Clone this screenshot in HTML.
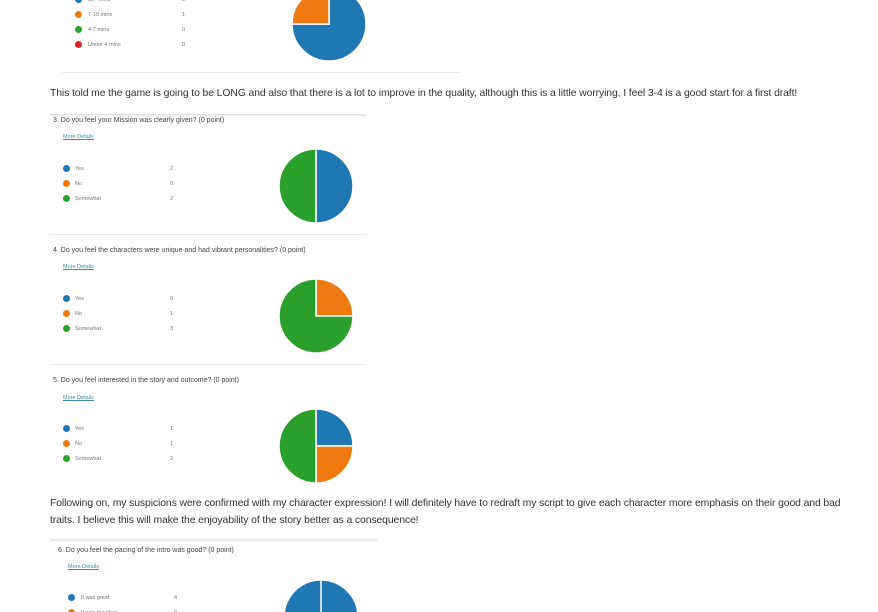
<!DOCTYPE html>
<html><head><meta charset="utf-8">
<style>
html,body{margin:0;width:878px;height:612px;background:#fff;position:relative;overflow:hidden;font-family:"Liberation Sans",sans-serif;}
.a{position:absolute;white-space:nowrap;z-index:2;}
.body{font-size:10.4px;color:#333;letter-spacing:-0.1px;}
.q{font-size:7px;color:#444;line-height:9px;}
.md{font-size:5.5px;color:#3a8fa0;text-decoration:underline;}
.lg{font-size:5.5px;color:#777;line-height:7px;}
.line{position:absolute;height:1px;background:#eaeaea;}
.shadow{position:absolute;height:3px;background:linear-gradient(#d8dde0,#fff);z-index:0;}
.dot{position:absolute;width:7px;height:7px;border-radius:50%;}
</style></head><body>
<div class="line" style="left:62px;top:72px;width:398px"></div>
<div class="a body" style="left:50px;top:88px">This told me the game is going to be LONG and also that there is a lot to improve in the quality, although this is a little worrying, I feel 3-4 is a good start for a first draft!</div>
<div class="shadow" style="left:50px;top:114px;width:316px"></div>
<div class="line" style="left:50px;top:234px;width:316px"></div>
<div class="line" style="left:50px;top:364px;width:316px"></div>
<div class="a body" style="left:50px;top:495px;line-height:17px">Following on, my suspicions were confirmed with my character expression! I will definitely have to redraft my script to give each character more emphasis on their good and bad<br>traits. I believe this will make the enjoyability of the story better as a consequence!</div>
<div class="shadow" style="left:50px;top:539px;width:327px"></div>
<div id="root"></div>
<script>
const colors=['#1f77b4','#ef7b10','#2ca02c','#d62728'];
const q2Labels=['10+ mins','7-10 mins','4-7 mins','Under 4 mins'];
const q2Values=[3,1,0,0];
const q3Labels=['Yes','No','Somewhat'];
const q3Values=[2,0,2];
const q4Labels=['Yes','No','Somewhat'];
const q4Values=[0,1,3];
const q5Labels=['Yes','No','Somewhat'];
const q5Values=[1,1,2];
const q6Labels=['It was good','It was too slow'];
const q6Values=[4,0];
const root=document.getElementById('root');
const ns='http://www.w3.org/2000/svg';
function txt(cls,s,x,y,name,inter){const d=document.createElement('div');d.className='a '+cls;d.textContent=s;d.style.left=x+'px';d.style.top=y+'px';


root.appendChild(d);}
function legend(labels,values,dx,lx,cx,y0,step,key){labels.forEach((l,i)=>{const y=y0+i*step;const d=document.createElement('div');d.className='dot';d.style.left=(dx-3.5)+'px';d.style.top=(y-4.5)+'px';d.style.background=colors[i];


root.appendChild(d);txt('lg',l,lx,y-3.5,key+'-legend-label',false);txt('lg',String(values[i]),cx,y-3.5,key+'-legend-count',false);});}
function pie(values,cx,cy,r,key){const svg=document.createElementNS(ns,'svg');svg.setAttribute('width',878);svg.setAttribute('height',612);svg.style.position='absolute';svg.style.left='0';svg.style.top='0';


const tot=values.reduce((a,b)=>a+b,0);let a0=0;values.forEach((v,i)=>{if(!v)return;const a1=a0+v/tot*2*Math.PI;let el;
if(v===tot){el=document.createElementNS(ns,'circle');el.setAttribute('cx',cx);el.setAttribute('cy',cy);el.setAttribute('r',r);}
else{const x0=cx+r*Math.sin(a0),y0=cy-r*Math.cos(a0),x1=cx+r*Math.sin(a1),y1=cy-r*Math.cos(a1);el=document.createElementNS(ns,'path');el.setAttribute('d',`M${cx},${cy}L${x0},${y0}A${r},${r} 0 ${a1-a0>Math.PI?1:0} 1 ${x1},${y1}Z`);}
el.setAttribute('fill',colors[i]);el.setAttribute('stroke','#fff');el.setAttribute('stroke-width','1.5');


svg.appendChild(el);a0=a1;});
if(values.filter(v=>v).length===1){const l=document.createElementNS(ns,'line');l.setAttribute('x1',cx);l.setAttribute('y1',cy-r);l.setAttribute('x2',cx);l.setAttribute('y2',cy);l.setAttribute('stroke','#fff');l.setAttribute('stroke-width','1.5');svg.appendChild(l);}
root.appendChild(svg);}
legend(q2Labels,q2Values,78,88,182,0,15.3,'q2');pie(q2Values,329,24,37,'q2');
txt('q','3.  Do you feel your Mission was clearly given? (0 point)',53,116,'q3-title',false);
txt('md','More Details',63,134,'q3-more-details',true);
legend(q3Labels,q3Values,66,75,170,169,15.3,'q3');pie(q3Values,316,186,37,'q3');
txt('q','4.  Do you feel the characters were unique and had vibrant personalities? (0 point)',53,246,'q4-title',false);
txt('md','More Details',63,264,'q4-more-details',true);
legend(q4Labels,q4Values,66,75,170,299,15.3,'q4');pie(q4Values,316,316,37,'q4');
txt('q','5.  Do you feel interested in the story and outcome? (0 point)',53,376,'q5-title',false);
txt('md','More Details',63,395,'q5-more-details',true);
legend(q5Labels,q5Values,66,75,170,429,15.3,'q5');pie(q5Values,316,446,37,'q5');
txt('q','6.  Do you feel the pacing of the intro was good? (0 point)',58,546,'q6-title',false);
txt('md','More Details',68,564,'q6-more-details',true);
legend(q6Labels,q6Values,71,81,174,598,15.3,'q6');pie(q6Values,321,617,37,'q6');
</script>
</body></html>
